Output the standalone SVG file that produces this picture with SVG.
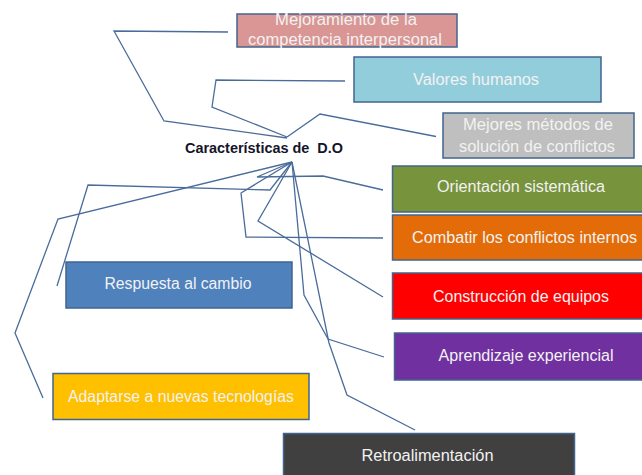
<svg xmlns="http://www.w3.org/2000/svg" width="642" height="475" viewBox="0 0 642 475">
<style>
.box{stroke:#41648f;stroke-width:1.5}
.t{font-family:"Liberation Sans",Arial,sans-serif;font-size:16px;fill:#f2f2f2;text-anchor:middle}
.c{fill:none;stroke:#4a6c9b;stroke-width:1.3;stroke-linejoin:miter}
.title{font-family:"Liberation Sans",Arial,sans-serif;font-size:14px;font-weight:bold;fill:#14142a;white-space:pre}
</style>
<rect width="642" height="475" fill="#ffffff"/>
<g id="connectors">
<polyline class="c" points="228,32 114,31 164,121 287,138"/>
<polyline class="c" points="345,81 216,80 212,107 287,137"/>
<polyline class="c" points="287,137 320,114 436,136.5"/>
<polyline class="c" points="292,162 257,177 323,176 383,190"/>
<polyline class="c" points="292,162 241,193 246,237 383,238"/>
<polyline class="c" points="292,162 258,221 383,297"/>
<polyline class="c" points="292,162 304,295 328,339 384,357"/>
<polyline class="c" points="292,162 329,343 347,395 415,430"/>
<polyline class="c" points="292,162 270,190 88,185 57,286"/>
<polyline class="c" points="292,162 58,219 15,333 43,398"/>
</g>
<g id="title"><text class="title" x="185" y="153" textLength="158" lengthAdjust="spacingAndGlyphs">Características de  D.O</text></g>
<g id="mejoramiento"><rect class="box" x="237" y="14" width="220" height="33" fill="#d99694"/>
<text class="t" x="346" y="25" textLength="142" lengthAdjust="spacingAndGlyphs">Mejoramiento de la</text>
<text class="t" x="345" y="45" textLength="194" lengthAdjust="spacingAndGlyphs">competencia interpersonal</text></g>
<g id="valores"><rect class="box" x="354" y="57" width="247" height="45" fill="#92cddc"/>
<text class="t" x="476" y="85" textLength="126" lengthAdjust="spacingAndGlyphs">Valores humanos</text></g>
<g id="mejores"><rect class="box" x="443" y="113" width="191" height="45" fill="#bfbfbf"/>
<text class="t" x="538" y="129.5" textLength="150" lengthAdjust="spacingAndGlyphs">Mejores métodos de</text>
<text class="t" x="537" y="151.5" textLength="156" lengthAdjust="spacingAndGlyphs">solución de conflictos</text></g>
<g id="orientacion"><rect class="box" x="392.5" y="166" width="252" height="46" fill="#77933c"/>
<text class="t" x="521" y="192" textLength="168" lengthAdjust="spacingAndGlyphs">Orientación sistemática</text></g>
<g id="combatir"><rect class="box" x="392.5" y="215" width="252" height="45" fill="#e36c09"/>
<text class="t" x="524.5" y="243" textLength="225" lengthAdjust="spacingAndGlyphs">Combatir los conflictos internos</text></g>
<g id="construccion"><rect class="box" x="392.5" y="273" width="252" height="46" fill="#ff0000"/>
<text class="t" x="521" y="302" textLength="176" lengthAdjust="spacingAndGlyphs">Construcción de equipos</text></g>
<g id="aprendizaje"><rect class="box" x="394.5" y="333" width="252" height="47" fill="#7030a0"/>
<text class="t" x="526" y="361" textLength="175" lengthAdjust="spacingAndGlyphs">Aprendizaje experiencial</text></g>
<g id="respuesta"><rect class="box" x="66" y="262" width="226" height="46" fill="#4f81bd"/>
<text class="t" x="178" y="289" textLength="147" lengthAdjust="spacingAndGlyphs">Respuesta al cambio</text></g>
<g id="adaptarse"><rect class="box" x="53" y="373.5" width="256" height="46" fill="#ffc000"/>
<text class="t" x="181" y="402" textLength="226" lengthAdjust="spacingAndGlyphs">Adaptarse a nuevas tecnologías</text></g>
<g id="retro"><rect class="box" x="283.5" y="433.5" width="291" height="50" fill="#404040"/>
<text class="t" x="427.5" y="461" textLength="132" lengthAdjust="spacingAndGlyphs">Retroalimentación</text></g>
</svg>
